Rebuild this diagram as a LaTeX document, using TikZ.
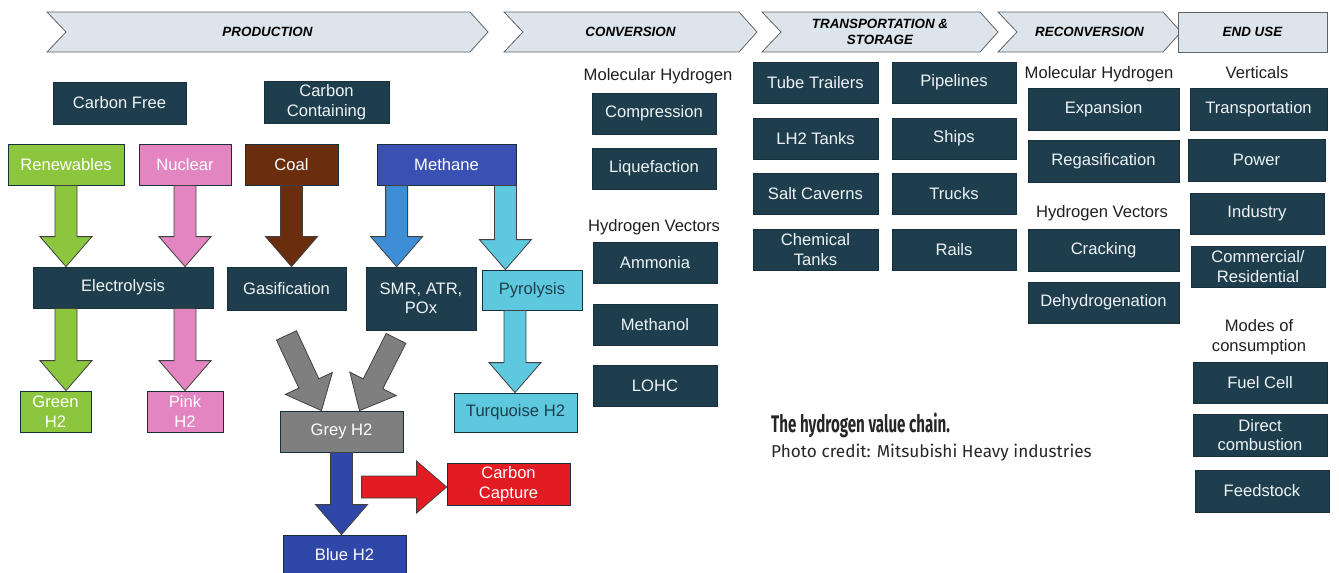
\documentclass[tikz,border=0pt]{standalone}
\usepackage{fontspec}
\setmainfont{Liberation Sans}
\newfontfamily\titlefont[FakeStretch=0.63]{Fira Sans}
\newfontfamily\creditfont{Fira Sans}
\usetikzlibrary{calc}

\definecolor{panel}{HTML}{1F3E4D}
\definecolor{panelline}{HTML}{16303C}
\definecolor{paneltext}{HTML}{EEF3F6}
\definecolor{stagefill}{HTML}{DCE5EB}
\definecolor{stageline}{HTML}{5F6468}
\definecolor{renew}{HTML}{8CC63F}
\definecolor{nuke}{HTML}{E285C0}
\definecolor{coal}{HTML}{6A2D0D}
\definecolor{methane}{HTML}{3A50B2}
\definecolor{smrblue}{HTML}{3E8ED6}
\definecolor{turq}{HTML}{5EC8DE}
\definecolor{greyh}{HTML}{7F7F7F}
\definecolor{blueh}{HTML}{2E47A8}
\definecolor{capture}{HTML}{E31B22}

% block arrow from #2 (tail) to #3 (tip)
\newcommand\fatarrow[3][]{%
  \filldraw[fat,#1] let \p1=(#2), \p2=(#3), \n1={atan2(\y2-\y1,\x2-\x1)} in
    ($(\p1)+(\n1+90:11pt)$) -- ($(\p2)+(\n1+180:30pt)+(\n1+90:11pt)$)
    -- ($(\p2)+(\n1+180:30pt)+(\n1+90:26pt)$) -- (\p2)
    -- ($(\p2)+(\n1+180:30pt)+(\n1-90:26pt)$) -- ($(\p2)+(\n1+180:30pt)+(\n1-90:11pt)$)
    -- ($(\p1)+(\n1-90:11pt)$) -- cycle;%
}

% chevron in the top band
\newcommand\stagebar[4]{%
  \draw[stage] (#1,12) -- ({#2-18},12) -- (#2,32) -- ({#2-18},52) -- (#1,52) -- ({#1+19},32) -- cycle;%
  \node[stagelabel] (#3) at ({(#1+#2)/2},32) {#4};%
}

\begin{document}
\begin{tikzpicture}[x=1pt,y=-1pt,
    box/.style={rectangle,draw=panelline,line width=0.8pt,fill=panel,text=paneltext,
      font=\fontsize{16.6}{19.5}\selectfont,align=center,inner sep=1pt,
      minimum width=124pt,minimum height=41pt},
    heading/.style={font=\fontsize{16.6}{19.5}\selectfont,text=black!88,align=center,inner sep=0pt},
    stage/.style={draw=stageline,line width=0.8pt,fill=stagefill},
    stagelabel/.style={font=\fontsize{13.4}{15.5}\selectfont\bfseries\itshape,align=center,inner sep=0pt},
    fat/.style={draw=black!75,line width=0.8pt}]
  \useasboundingbox (0,0) rectangle (1339,573);%

  \stagebar{47}{488}{prod}{PRODUCTION}%
  \stagebar{504}{757}{conv}{CONVERSION}%
  \stagebar{762}{998}{trans}{TRANSPORTATION \&\\STORAGE}%
  \stagebar{998}{1181}{recon}{RECONVERSION}%
  \draw[stage] (1178,12) rectangle (1327,52);%
  \node[stagelabel] (enduse) at (1252.5,32) {END USE};%

  \node[box,minimum width=133pt,minimum height=42pt] (cf) at (119.5,103) {Carbon Free};%
  \node[box,minimum width=125pt,minimum height=42pt] (cc) at (326.5,102) {Carbon\\Containing};%

  \node[box,fill=renew,text=white,minimum width=116pt] (ren) at (66,164.5) {Renewables};%
  \node[box,fill=nuke,text=white,minimum width=92pt] (nu) at (185,164.5) {Nuclear};%
  \node[box,fill=coal,text=white,minimum width=93pt] (co) at (291.5,164.5) {Coal};%
  \node[box,fill=methane,text=white,minimum width=139pt] (me) at (446.5,164.5) {Methane};%

  \node[box,minimum width=180pt] (el) at (123,287.5) {Electrolysis};%
  \node[box,minimum width=119pt,minimum height=43pt] (ga) at (286.5,288.5) {Gasification};%
  \node[box,minimum width=110pt,minimum height=63pt] (smr) at (421,298.5) {SMR, ATR,\\POx};%
  \node[box,fill=turq,text=panel,minimum width=100pt,minimum height=40pt] (py) at (532,290) {Pyrolysis};%

  \node[box,fill=renew,text=white,minimum width=71pt] (gr) at (55.5,411.5) {Green\\H2};%
  \node[box,fill=nuke,text=white,minimum width=76pt] (pk) at (185,411.5) {Pink\\H2};%
  \node[box,fill=greyh,text=white,minimum width=123pt] (gy) at (341.5,431.5) {Grey H2};%
  \node[box,fill=turq,text=panel,minimum width=123pt,minimum height=39pt] (tq) at (515.5,412.5) {Turquoise H2};%
  \node[box,fill=capture,text=white,minimum width=123pt,minimum height=42pt] (cap) at (508.5,484) {Carbon\\Capture};%
  \node[box,fill=blueh,text=white,minimum width=123pt,minimum height=40pt] (bl) at (344.5,555) {Blue H2};%

  \coordinate (mt1) at ($(me.south west)+(20,0)$);%
  \coordinate (mt2) at ($(me.south east)+(-11,0)$);%
  \coordinate (pt1) at ($(py.south)+(-17,0)$);%
  \coordinate (gt1) at ($(ga.south)+(0,25)$);%
  \coordinate (gt2) at ($(smr.south)+(-25,8)$);%
  \coordinate (ct1) at ($(cap.west)+(-85,3)$);%

  \fatarrow[fill=renew]{ren.south}{ren.south |- el.north}%
  \fatarrow[fill=nuke]{nu.south}{nu.south |- el.north}%
  \fatarrow[fill=coal]{co.south}{co.south |- ga.north}%
  \fatarrow[fill=smrblue]{mt1}{mt1 |- smr.north}%
  \fatarrow[fill=turq]{mt2}{mt2 |- py.north}%
  \fatarrow[fill=renew]{ren.south |- el.south}{ren.south |- gr.north}%
  \fatarrow[fill=nuke]{nu.south |- el.south}{nu.south |- pk.north}%
  \fatarrow[fill=turq]{pt1}{pt1 |- tq.north}%
  \fatarrow[fill=greyh]{gt1}{$(gy.north)+(-20,0)$}%
  \fatarrow[fill=greyh]{gt2}{$(gy.north)+(18,0)$}%
  \fatarrow[fill=blueh]{gy.south}{gy.south |- bl.north}%
  \fatarrow[fill=capture]{ct1}{cap.west |- ct1}%

  \node[heading] (molc) at (658,76) {Molecular Hydrogen};%
  \node[box] (comp) at (654,113.5) {Compression};%
  \node[box] (liq) at (654,168.5) {Liquefaction};%
  \node[heading] (vecc) at (654,227) {Hydrogen Vectors};%
  \node[box] (amm) at (655,262.5) {Ammonia};%
  \node[box] (meoh) at (655,324.5) {Methanol};%
  \node[box] (lohc) at (655,385.5) {LOHC};%

  \node[box,minimum width=125pt] (tube) at (815.5,82.5) {Tube Trailers};%
  \node[box,minimum width=125pt] (lh2) at (815.5,138.5) {LH2 Tanks};%
  \node[box,minimum width=125pt] (salt) at (815.5,193.5) {Salt Caverns};%
  \node[box,minimum width=125pt] (chem) at (815.5,249.5) {Chemical\\Tanks};%
  \node[box] (pipe) at (954,82.5) {Pipelines};%
  \node[box] (ship) at (954,138.5) {Ships};%
  \node[box] (truck) at (954,193.5) {Trucks};%
  \node[box] (rail) at (954,249.5) {Rails};%

  \node[heading] (molr) at (1099,74) {Molecular Hydrogen};%
  \node[box,minimum width=151pt,minimum height=42pt] (exp) at (1103.5,109) {Expansion};%
  \node[box,minimum width=151pt,minimum height=42pt] (regas) at (1103.5,161) {Regasification};%
  \node[heading] (vecr) at (1102,213) {Hydrogen Vectors};%
  \node[box,minimum width=151pt,minimum height=42pt] (crack) at (1103.5,250) {Cracking};%
  \node[box,minimum width=151pt] (dehyd) at (1103.5,302.5) {Dehydrogenation};%

  \node[heading] (vert) at (1257,73) {Verticals};%
  \node[box,minimum width=137pt,minimum height=42pt] (tport) at (1258.5,109) {Transportation};%
  \node[box,minimum width=137pt,minimum height=42pt] (power) at (1256.5,160) {Power};%
  \node[box,minimum width=134pt] (ind) at (1257,213.5) {Industry};%
  \node[box,minimum width=134pt] (comm) at (1258,266.5) {Commercial/\\Residential};%
  \node[heading] (modes) at (1259,337) {Modes of\\consumption};%
  \node[box,minimum width=134pt] (fuel) at (1260,382.5) {Fuel Cell};%
  \node[box,minimum width=134pt,minimum height=42pt] (direct) at (1260,435) {Direct\\combustion};%
  \node[box,minimum width=134pt,minimum height=42pt] (feed) at (1262,491) {Feedstock};%

  \node[anchor=base west,inner sep=0pt,text=black!85,
    font={\titlefont\bfseries\fontsize{24}{26}\selectfont}] (title) at (771,432) {The hydrogen value chain.};%
  \node[anchor=base west,inner sep=0pt,text=black!85,
    font={\creditfont\fontsize{17.2}{19}\selectfont}] (credit) at (771,457) {Photo credit: Mitsubishi Heavy industries};%
\end{tikzpicture}
\end{document}
